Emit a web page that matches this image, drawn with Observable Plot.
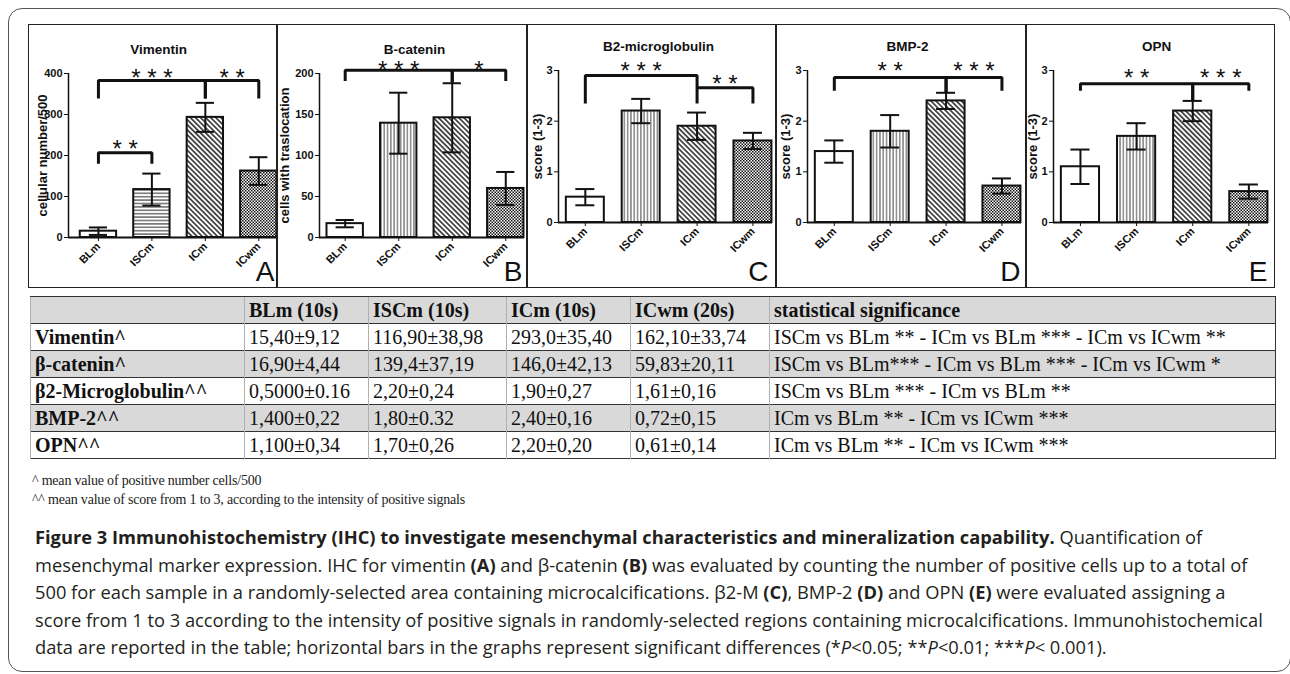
<!DOCTYPE html>
<html><head><meta charset="utf-8">
<script src="https://cdn.jsdelivr.net/npm/d3@7"></script>
<script src="https://cdn.jsdelivr.net/npm/@observablehq/plot@0.6"></script>
<style>
html,body{margin:0;padding:0;background:#fff;}
body{width:1290px;height:674px;position:relative;overflow:hidden;}
#outer{position:absolute;left:8px;top:8px;width:1283px;height:664px;border:1.5px solid #555;border-radius:14px;box-sizing:border-box;}
.panel{position:absolute;top:25px;height:262px;}
.panel svg{display:block;}
#pframe{position:absolute;left:28px;top:24px;width:1247px;height:264px;border:1.5px solid #222;box-sizing:border-box;z-index:5;pointer-events:none;}
.sep{position:absolute;top:25px;height:262px;width:1.5px;background:#222;z-index:5;}
#tbl{position:absolute;left:30px;top:296px;width:1245px;border-collapse:collapse;table-layout:fixed;font-family:'Liberation Serif','Times New Roman',serif;font-size:20px;color:#111;border:1.5px solid #333;}
#tbl td,#tbl th{height:26px;padding:0 0 0 4px;text-align:left;white-space:nowrap;border-left:1px solid #b0b0b0;border-top:1.5px solid #333;line-height:26px;overflow:hidden;}
#tbl th{font-weight:bold;}
#tbl td.n{font-weight:bold;}
#tbl tr.g td,#tbl tr.g th{background:#d9d9d9;}
.fn{position:absolute;left:32px;font-family:'Liberation Serif','Times New Roman',serif;font-size:14px;color:#222;white-space:nowrap;letter-spacing:-0.2px;}
.cap{position:absolute;left:35px;font-family:'Open Sans',sans-serif;font-size:18.3px;color:#231f20;white-space:nowrap;}
</style>
</head><body>
<svg width="0" height="0" style="position:absolute">
  <defs>
    <pattern id="hl" width="6" height="3.4" patternUnits="userSpaceOnUse"><rect width="6" height="3.4" fill="#fff"/><line x1="0" y1="1.7" x2="6" y2="1.7" stroke="#222" stroke-width="1"/></pattern>
    <pattern id="vl" width="3.3" height="6" patternUnits="userSpaceOnUse"><rect width="3.3" height="6" fill="#fff"/><line x1="1.65" y1="0" x2="1.65" y2="6" stroke="#333" stroke-width="0.9"/></pattern>
    <pattern id="dg" width="3.6" height="8" patternUnits="userSpaceOnUse" patternTransform="rotate(-45)"><rect width="3.6" height="8" fill="#fff"/><line x1="1.8" y1="0" x2="1.8" y2="8" stroke="#111" stroke-width="1.4"/></pattern>
    <pattern id="ck" width="3" height="3" patternUnits="userSpaceOnUse"><rect width="3" height="3" fill="#fff"/><rect x="0" y="0" width="1.5" height="1.5" fill="#111"/><rect x="1.5" y="1.5" width="1.5" height="1.5" fill="#111"/></pattern>
  </defs>
</svg>
<div id="outer"></div>
<div id="panels"></div>
<div id="pframe"></div>
<table id="tbl"></table>
<div class="fn" style="top:473px">^ mean value of positive number cells/500</div>
<div class="fn" style="top:492px">^^ mean value of score from 1 to 3, according to the intensity of positive signals</div>
<div id="caption"></div>
<script>
// ---------- data ----------
const categories = ["BLm", "ISCm", "ICm", "ICwm"];

const vimentinMean = [15.40, 116.90, 293.0, 162.10];
const vimentinSD   = [9.12, 38.98, 35.40, 33.74];
const bcateninMean = [16.90, 139.4, 146.0, 59.83];
const bcateninSD   = [4.44, 37.19, 42.13, 20.11];
const b2mMean      = [0.5000, 2.20, 1.90, 1.61];
const b2mSD        = [0.16, 0.24, 0.27, 0.16];
const bmp2Mean     = [1.400, 1.80, 2.40, 0.72];
const bmp2SD       = [0.22, 0.32, 0.16, 0.15];
const opnMean      = [1.100, 1.70, 2.20, 0.61];
const opnSD        = [0.34, 0.26, 0.20, 0.14];

const vimentinTicks = [0, 100, 200, 300, 400];
const bcateninTicks = [0, 50, 100, 150, 200];
const scoreTicks    = [0, 1, 2, 3];

// significance brackets: [from, to, top, left leg end, right leg end]
const vimentinBrackets = [["BLm","ICm",383,339,339],["ICm","ICwm",383,339,339],["BLm","ISCm",207,180,180]];
const bcateninBrackets = [["BLm","ICm",204,191,189],["ICm","ICwm",204,189,191]];
const b2mBrackets      = [["BLm","ICm",2.90,2.35,2.35],["ICm","ICwm",2.66,2.66,2.35]];
const bmp2Brackets     = [["BLm","ICm",2.86,2.60,2.57],["ICm","ICwm",2.86,2.57,2.60]];
const opnBrackets      = [["BLm","ICm",2.74,2.60,2.40],["ICm","ICwm",2.74,2.40,2.60]];
// star labels: [from, to, stars, height]
const vimentinStars = [["BLm","ICm","***",406],["ICm","ICwm","**",406],["BLm","ISCm","**",232]];
const bcateninStars = [["BLm","ICm","***",212],["ICm","ICwm","*",212]];
const b2mStars      = [["BLm","ICm","***",3.13],["ICm","ICwm","**",2.86]];
const bmp2Stars     = [["BLm","ICm","**",3.13],["ICm","ICwm","***",3.13]];
const opnStars      = [["BLm","ICm","**",2.99],["ICm","ICwm","***",2.99]];

// table
const tableHeader = ["", "BLm (10s)", "ISCm (10s)", "ICm (10s)", "ICwm (20s)", "statistical significance"];
const markerNames = ["Vimentin^", "β-catenin^", "β2-Microglobulin^^", "BMP-2^^", "OPN^^"];
const tableBLm  = ["15,40±9,12", "16,90±4,44", "0,5000±0.16", "1,400±0,22", "1,100±0,34"];
const tableISCm = ["116,90±38,98", "139,4±37,19", "2,20±0,24", "1,80±0.32", "1,70±0,26"];
const tableICm  = ["293,0±35,40", "146,0±42,13", "1,90±0,27", "2,40±0,16", "2,20±0,20"];
const tableICwm = ["162,10±33,74", "59,83±20,11", "1,61±0,16", "0,72±0,15", "0,61±0,14"];
const tableSignif = [
  "ISCm vs BLm ** - ICm vs BLm *** - ICm vs ICwm **",
  "ISCm vs BLm*** - ICm vs BLm *** - ICm vs ICwm *",
  "ISCm vs BLm *** - ICm vs BLm **",
  "ICm vs BLm ** - ICm vs ICwm ***",
  "ICm vs BLm ** - ICm vs ICwm ***"
];

// ---------- panels ----------
const ink = "#111";
const font = "'Liberation Sans', Arial, sans-serif";
const HW = 0.34, CAP = 0.17, XHI = 3.35;

function makePanel(cfg) {
  const idx = c => categories.indexOf(c);
  const fills = ["#fff", `url(#${cfg.isc})`, "url(#dg)", "url(#ck)"];
  const data = categories.map((c, i) => ({i, cat: c, mean: cfg.mean[i], sd: cfg.sd[i], fill: fills[i]}));
  const caps = data.flatMap(d => [{i: d.i, v: d.mean + d.sd}, {i: d.i, v: d.mean - d.sd}]);
  const bpts = cfg.brackets.flatMap(([a, b, top, la, lb], k) => [
    {k, x: idx(a), y: la}, {k, x: idx(a), y: top}, {k, x: idx(b), y: top}, {k, x: idx(b), y: lb}
  ]);
  const stars = cfg.stars.map(([a, b, s, y]) => ({x: (idx(a) + idx(b)) / 2, y, s: s.split("").join(" ")}));
  const ymax = cfg.ticks[cfg.ticks.length - 1];
  const plot = Plot.plot({
    width: cfg.width, height: 262,
    marginLeft: cfg.ml, marginRight: cfg.mr, marginTop: cfg.mt, marginBottom: cfg.mb,
    x: {domain: [cfg.xlo, XHI]},
    y: {domain: [0, ymax]},
    color: {type: "identity"},
    style: {fontFamily: font, fontWeight: "bold", color: ink, background: "transparent", overflow: "visible"},
    marks: [
      Plot.rect(data, {x1: d => d.i - HW, x2: d => d.i + HW, y1: () => 0, y2: "mean", fill: "fill", stroke: ink, strokeWidth: 2}),
      Plot.ruleX(data, {x: "i", y1: d => d.mean - d.sd, y2: d => d.mean + d.sd, stroke: ink, strokeWidth: 2}),
      Plot.ruleY(caps, {y: "v", x1: d => d.i - CAP, x2: d => d.i + CAP, stroke: ink, strokeWidth: 2}),
      Plot.ruleY([0], {stroke: ink, strokeWidth: 2}),
      Plot.ruleX([cfg.xlo], {y1: 0, y2: ymax, stroke: ink, strokeWidth: 1.5}),
      Plot.line(bpts, {x: "x", y: "y", z: "k", stroke: ink, strokeWidth: 3, strokeLinejoin: "miter", strokeLinecap: "butt"}),
      Plot.text(stars, {x: "x", y: "y", text: "s", fontSize: 24, fontWeight: "normal", lineAnchor: "middle", dy: 7, fill: ink}),
      Plot.axisY({ticks: cfg.ticks, tickFormat: d => String(d), tickSize: 4, tickPadding: 2, fontSize: 11, fontWeight: "bold", label: null, stroke: ink}),
      Plot.axisX({ticks: [0, 1, 2, 3], tickFormat: i => categories[i], tickRotate: -45, tickSize: 4, tickPadding: 3, fontSize: 11, fontWeight: "bold", label: null, stroke: ink}),
      Plot.text([cfg.ylabel], {frameAnchor: "left", textAnchor: "middle", lineAnchor: "middle", rotate: -90, dx: -cfg.ylo, fontSize: 13, fontWeight: "bold", fill: ink}),
      Plot.text([cfg.title], {frameAnchor: "top", lineAnchor: "middle", dx: cfg.tdx, dy: -24, fontSize: 13.5, fontWeight: "bold", fill: ink}),
      Plot.text([cfg.letter], {frameAnchor: "bottom-right", textAnchor: "end", lineAnchor: "middle", dx: cfg.ldx, dy: cfg.ldy, fontSize: 28, fontWeight: "normal", fill: ink})
    ]
  });
  const div = document.createElement("div");
  div.className = "panel";
  div.style.left = cfg.left + "px";
  div.style.width = cfg.width + "px";
  div.appendChild(plot);
  document.getElementById("panels").appendChild(div);
}

const panelCfgs = [
  {left: 29, width: 248, ml: 39, mr: 0, mt: 48, mb: 50, xlo: -0.56, mean: vimentinMean, sd: vimentinSD, ticks: vimentinTicks, brackets: vimentinBrackets, stars: vimentinStars, ylabel: "cellular number/500", ylo: 26, title: "Vimentin", tdx: -14.5, letter: "A", ldx: -3, ldy: 35, isc: "hl"},
  {left: 277, width: 250, ml: 42, mr: 3, mt: 48, mb: 50, xlo: -0.48, mean: bcateninMean, sd: bcateninSD, ticks: bcateninTicks, brackets: bcateninBrackets, stars: bcateninStars, ylabel: "cells with traslocation", ylo: 35, title: "B-catenin", tdx: -7.5, letter: "B", ldx: -2, ldy: 35, isc: "vl"},
  {left: 527, width: 249, ml: 31, mr: 4, mt: 45, mb: 65, xlo: -0.48, mean: b2mMean, sd: b2mSD, ticks: scoreTicks, brackets: b2mBrackets, stars: b2mStars, ylabel: "score (1-3)", ylo: 21, title: "B2-microglobulin", tdx: -7, letter: "C", ldx: -4, ldy: 50, isc: "vl"},
  {left: 776, width: 250, ml: 31, mr: 5, mt: 45, mb: 65, xlo: -0.48, mean: bmp2Mean, sd: bmp2SD, ticks: scoreTicks, brackets: bmp2Brackets, stars: bmp2Stars, ylabel: "score (1-3)", ylo: 22, title: "BMP-2", tdx: -7, letter: "D", ldx: -1, ldy: 50, isc: "vl"},
  {left: 1026, width: 248, ml: 27, mr: 6, mt: 45, mb: 65, xlo: -0.48, mean: opnMean, sd: opnSD, ticks: scoreTicks, brackets: opnBrackets, stars: opnStars, ylabel: "score (1-3)", ylo: 21, title: "OPN", tdx: -4.5, letter: "E", ldx: -1, ldy: 50, isc: "vl"}
];
panelCfgs.forEach(makePanel);
[277, 527, 776, 1026].forEach(x => {
  const s = document.createElement("div");
  s.className = "sep"; s.style.left = (x - 0.75) + "px";
  document.body.appendChild(s);
});

// ---------- table ----------
const tbl = document.getElementById("tbl");
const colW = [214, 124, 138, 124, 139, 506];
tbl.innerHTML = "<colgroup>" + colW.map(w => `<col style="width:${w}px">`).join("") + "</colgroup>"
  + `<tr class="g">${tableHeader.map(h => `<th>${h}</th>`).join("")}</tr>`
  + markerNames.map((m, r) => `<tr class="${r % 2 ? "g" : ""}"><td class="n">${m}</td><td>${tableBLm[r]}</td><td>${tableISCm[r]}</td><td>${tableICm[r]}</td><td>${tableICwm[r]}</td><td>${tableSignif[r]}</td></tr>`).join("");

// ---------- caption ----------
const captionLines = [
  "<b>Figure 3 Immunohistochemistry (IHC) to investigate mesenchymal characteristics and mineralization capability.</b> Quantification of",
  "mesenchymal marker expression. IHC for vimentin <b>(A)</b> and β-catenin <b>(B)</b> was evaluated by counting the number of positive cells up to a total of",
  "500 for each sample in a randomly-selected area containing microcalcifications. β2-M <b>(C)</b>, BMP-2 <b>(D)</b> and OPN <b>(E)</b> were evaluated assigning a",
  "score from 1 to 3 according to the intensity of positive signals in randomly-selected regions containing microcalcifications. Immunohistochemical",
  "data are reported in the table; horizontal bars in the graphs represent significant differences (*<i>P</i>&lt;0.05; **<i>P</i>&lt;0.01; ***<i>P</i>&lt; 0.001)."
];
const capDiv = document.getElementById("caption");
captionLines.forEach((l, k) => {
  const d = document.createElement("div");
  d.className = "cap";
  d.style.top = (524 + k * 27.5) + "px";
  d.innerHTML = l;
  capDiv.appendChild(d);
});
</script>
</body></html>
